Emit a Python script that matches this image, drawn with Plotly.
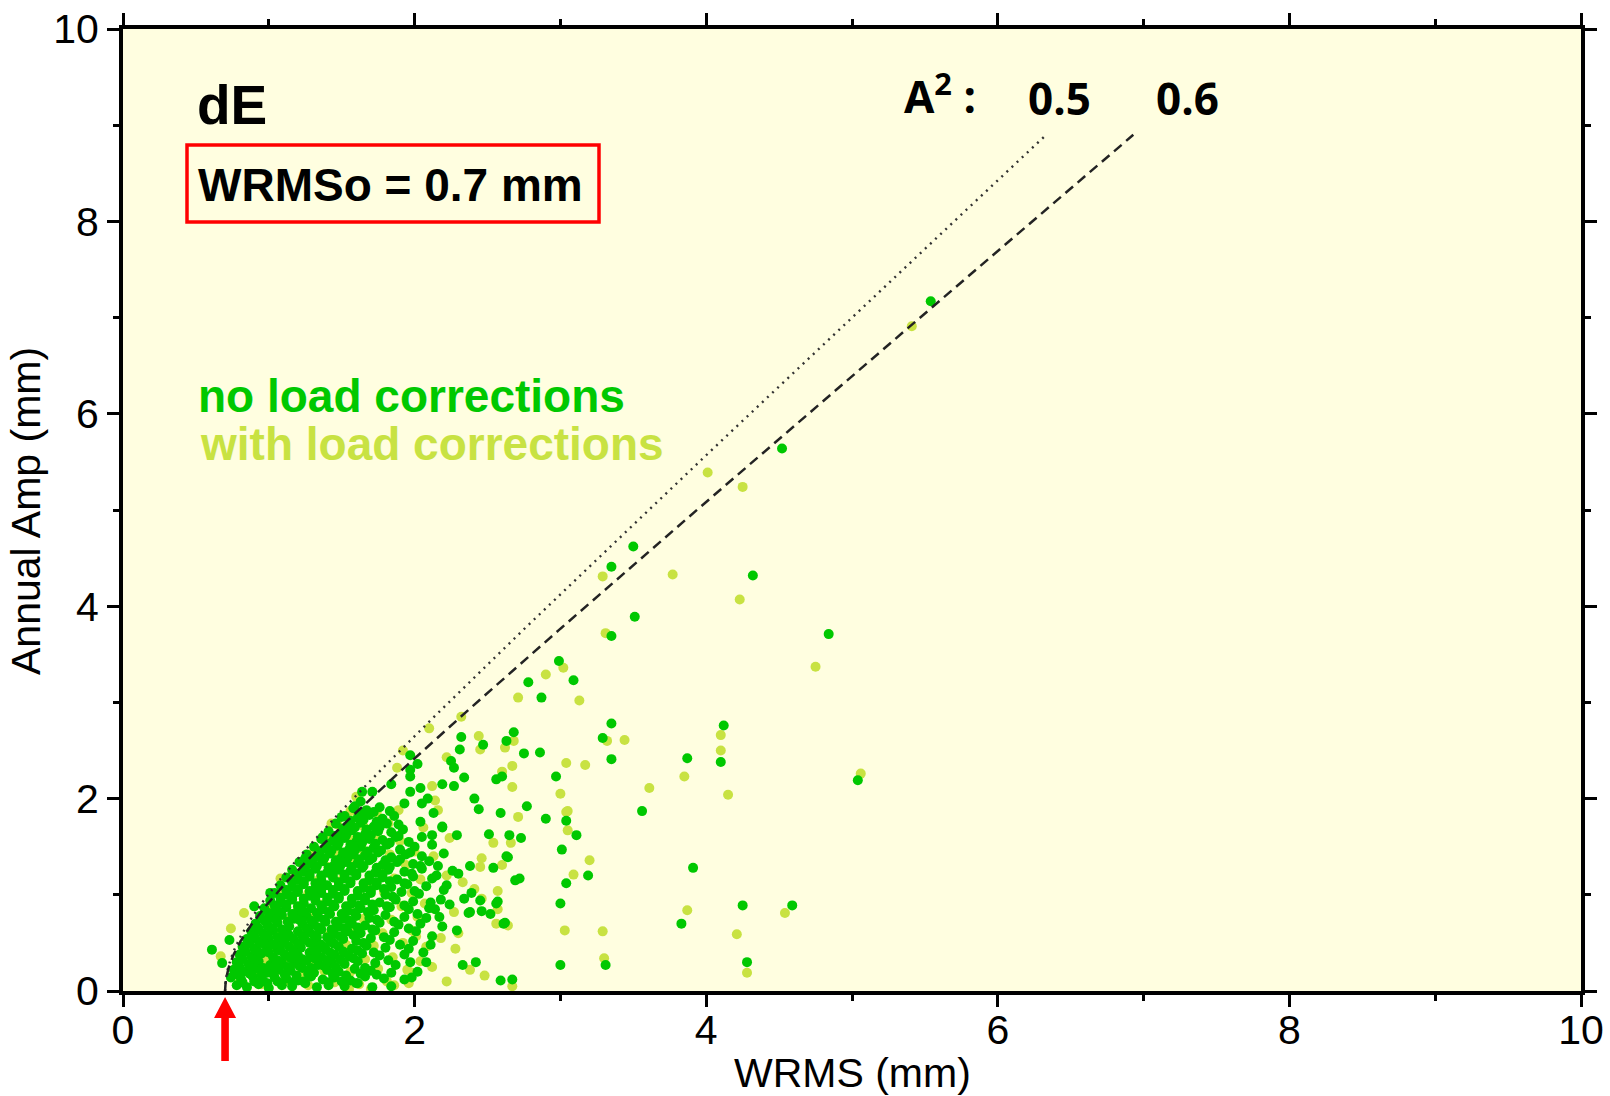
import numpy as np
import plotly.graph_objects as go

# ---------------- parameters of the model curves ----------------
WRMS0 = 0.7                # mm
A2_values = [0.5, 0.6]     # dotted, dashed
AMP_MAX = 8.9

# ---------------- tick labels ----------------
x_major = [0, 2, 4, 6, 8, 10]
x_minor = [1, 3, 5, 7, 9]
y_major = [0, 2, 4, 6, 8, 10]
y_minor = [1, 3, 5, 7, 9]

# ---------------- data (WRMS mm, annual amplitude mm) ----------------
green_outliers = [
    (5.54, 7.17), (4.52, 5.64), (3.50, 4.62), (3.35, 4.41), (4.32, 4.32), (3.51, 3.89),
    (4.84, 3.71), (3.35, 3.69), (2.99, 3.43), (3.09, 3.23), (2.78, 3.21), (2.87, 3.05),
    (4.12, 2.76), (4.10, 2.38), (3.87, 2.42), (3.56, 1.87), (5.04, 2.19), (3.91, 1.28),
    (3.83, 0.70), (4.25, 0.89), (4.28, 0.30), (4.59, 0.89),
    (3.35, 2.78), (3.29, 2.63), (3.35, 2.41), (2.97, 2.23), (3.01, 1.47), (3.19, 1.20),
    (3.04, 1.12), (3.00, 0.91), (3.00, 0.27), (3.31, 0.27), (3.11, 1.62), (3.04, 1.77),
    (2.68, 2.69), (2.63, 2.60), (2.47, 2.56), (2.32, 2.64), (2.31, 2.51), (2.75, 2.47),
    (2.86, 2.48), (2.25, 2.39), (2.27, 2.32), (2.34, 2.22), (2.27, 2.13), (2.60, 2.23),
    (2.56, 2.20), (2.41, 2.00), (2.44, 1.89), (2.19, 2.15), (2.77, 1.92), (2.59, 1.85),
    (2.90, 1.79), (2.13, 1.85), (2.04, 1.76), (2.19, 1.70), (2.29, 1.62), (2.02, 2.36),
    (1.97, 2.45), (1.97, 2.30), (1.97, 2.23), (2.04, 2.11), (1.97, 2.07), (1.84, 2.15),
    (2.51, 1.63), (2.65, 1.62), (2.73, 1.59), (2.64, 1.39), (2.38, 1.30), (2.54, 1.28),
    (2.30, 1.22), (2.69, 1.15), (2.72, 1.17), (2.22, 1.10), (2.34, 0.96), (2.39, 1.02),
    (2.37, 0.81), (2.46, 0.83), (2.52, 0.80), (2.57, 0.93), (2.61, 0.70), (2.45, 0.94),
    (2.56, 0.91), (2.62, 0.71), (2.19, 0.67), (2.29, 0.63), (2.11, 0.48), (1.97, 0.30),
    (1.98, 0.14), (2.33, 0.27), (2.42, 0.30), (2.59, 0.11), (2.67, 0.12), (2.63, 1.40),
    (2.38, 0.82), (2.20, 1.43), (2.19, 1.71), (2.20, 1.05), (2.12, 0.57), (1.84, 0.05),
    (0.61, 0.43), (0.68, 0.29), (0.73, 0.53), (0.90, 0.88), (1.01, 1.02), (1.25, 1.38),
    (1.37, 1.60), (1.50, 1.81), (1.59, 1.92), (1.63, 1.97), (1.71, 2.07), (1.64, 2.07),
    (2.05, 1.60), (2.12, 1.52), (2.16, 1.30), (2.15, 1.20), (2.18, 0.95), (2.14, 0.85),
    (2.17, 0.77), (2.08, 0.30), (2.02, 0.20), (1.93, 0.12), (2.06, 0.40), (2.24, 0.90),
    (2.26, 1.25), (2.12, 1.62), (2.05, 1.95), (1.93, 1.95), (2.09, 2.00),
]

green_cluster = [
    (0.78, 0.06), (0.85, 0.04), (0.93, 0.07), (1.00, 0.03), (1.09, 0.06), (1.16, 0.05),
    (1.25, 0.08), (1.33, 0.04), (1.41, 0.06), (1.52, 0.05), (1.60, 0.08), (1.71, 0.04),
    (0.74, 0.14), (0.81, 0.12), (0.89, 0.15), (0.96, 0.11), (1.04, 0.14), (1.12, 0.13),
    (1.20, 0.11), (1.29, 0.15), (1.37, 0.12), (1.45, 0.14), (1.56, 0.11), (1.66, 0.15), (1.79, 0.13),
    (0.76, 0.22), (0.83, 0.20), (0.92, 0.23), (0.99, 0.19), (1.07, 0.22), (1.15, 0.21),
    (1.23, 0.24), (1.31, 0.19), (1.40, 0.22), (1.48, 0.20), (1.59, 0.23), (1.70, 0.21), (1.84, 0.19),
    (0.78, 0.30), (0.86, 0.28), (0.93, 0.31), (1.01, 0.27), (1.09, 0.30), (1.18, 0.29),
    (1.26, 0.32), (1.34, 0.27), (1.43, 0.30), (1.52, 0.28), (1.61, 0.31), (1.73, 0.29), (1.87, 0.27),
    (0.80, 0.38), (0.88, 0.36), (0.95, 0.39), (1.03, 0.35), (1.11, 0.38), (1.20, 0.37),
    (1.28, 0.40), (1.36, 0.35), (1.45, 0.38), (1.55, 0.36), (1.64, 0.39), (1.76, 0.37), (1.93, 0.38),
    (0.82, 0.46), (0.90, 0.44), (0.98, 0.47), (1.06, 0.43), (1.14, 0.46), (1.22, 0.45),
    (1.31, 0.48), (1.39, 0.43), (1.48, 0.46), (1.57, 0.44), (1.67, 0.47), (1.80, 0.45), (1.96, 0.44),
    (0.85, 0.54), (0.93, 0.52), (1.00, 0.55), (1.08, 0.51), (1.17, 0.54), (1.25, 0.53),
    (1.33, 0.56), (1.42, 0.51), (1.51, 0.54), (1.60, 0.52), (1.70, 0.55), (1.83, 0.53), (1.99, 0.52),
    (0.88, 0.62), (0.96, 0.60), (1.03, 0.63), (1.11, 0.59), (1.20, 0.62), (1.28, 0.61),
    (1.36, 0.64), (1.45, 0.59), (1.54, 0.62), (1.63, 0.60), (1.73, 0.63), (1.86, 0.61), (2.01, 0.62),
    (0.91, 0.70), (0.99, 0.68), (1.06, 0.71), (1.14, 0.67), (1.23, 0.70), (1.31, 0.69),
    (1.39, 0.72), (1.48, 0.67), (1.57, 0.70), (1.66, 0.68), (1.76, 0.71), (1.89, 0.69), (2.04, 0.70),
    (0.94, 0.78), (1.02, 0.76), (1.09, 0.79), (1.17, 0.75), (1.26, 0.78), (1.34, 0.77),
    (1.42, 0.80), (1.51, 0.75), (1.60, 0.78), (1.69, 0.76), (1.80, 0.79), (1.93, 0.77), (2.08, 0.76),
    (0.97, 0.86), (1.05, 0.84), (1.12, 0.87), (1.20, 0.83), (1.29, 0.86), (1.37, 0.85),
    (1.45, 0.88), (1.54, 0.83), (1.63, 0.86), (1.72, 0.84), (1.83, 0.87), (1.96, 0.85), (2.10, 0.86),
    (1.01, 0.94), (1.08, 0.92), (1.16, 0.95), (1.24, 0.91), (1.32, 0.94), (1.40, 0.93),
    (1.48, 0.96), (1.57, 0.91), (1.66, 0.94), (1.76, 0.92), (1.87, 0.95), (1.99, 0.93), (2.11, 0.92),
    (1.04, 1.02), (1.12, 1.00), (1.20, 1.03), (1.28, 0.99), (1.36, 1.02), (1.44, 1.01),
    (1.52, 1.04), (1.61, 0.99), (1.70, 1.02), (1.80, 1.00), (1.91, 1.03), (2.03, 1.01),
    (1.08, 1.10), (1.16, 1.08), (1.24, 1.11), (1.32, 1.07), (1.40, 1.10), (1.48, 1.09),
    (1.56, 1.12), (1.65, 1.07), (1.74, 1.10), (1.84, 1.08), (1.95, 1.11), (2.08, 1.09),
    (1.12, 1.18), (1.20, 1.16), (1.28, 1.19), (1.36, 1.15), (1.44, 1.18), (1.52, 1.17),
    (1.60, 1.20), (1.69, 1.15), (1.78, 1.18), (1.88, 1.16), (1.99, 1.19), (2.12, 1.17),
    (1.16, 1.26), (1.24, 1.24), (1.32, 1.27), (1.40, 1.23), (1.48, 1.26), (1.56, 1.25),
    (1.64, 1.28), (1.73, 1.23), (1.82, 1.26), (1.93, 1.24), (2.05, 1.27),
    (1.21, 1.34), (1.29, 1.32), (1.37, 1.35), (1.45, 1.31), (1.53, 1.34), (1.61, 1.33),
    (1.69, 1.36), (1.78, 1.31), (1.88, 1.34), (1.99, 1.32), (2.10, 1.35),
    (1.26, 1.42), (1.34, 1.40), (1.42, 1.43), (1.50, 1.39), (1.58, 1.42), (1.66, 1.41),
    (1.75, 1.44), (1.84, 1.39), (1.94, 1.42), (2.05, 1.40),
    (1.31, 1.50), (1.39, 1.48), (1.47, 1.51), (1.55, 1.47), (1.63, 1.50), (1.72, 1.49),
    (1.81, 1.52), (1.90, 1.47), (2.00, 1.50),
    (1.36, 1.58), (1.44, 1.56), (1.52, 1.59), (1.60, 1.55), (1.69, 1.58), (1.78, 1.57),
    (1.87, 1.60), (1.96, 1.55),
    (1.41, 1.66), (1.49, 1.64), (1.57, 1.67), (1.66, 1.63), (1.75, 1.66), (1.84, 1.65), (1.92, 1.68),
    (1.46, 1.74), (1.54, 1.72), (1.63, 1.75), (1.72, 1.71), (1.81, 1.74), (1.89, 1.73),
    (1.52, 1.82), (1.61, 1.80), (1.69, 1.83), (1.78, 1.79), (1.86, 1.82),
    (1.58, 1.90), (1.67, 1.88), (1.76, 1.91), (1.83, 1.87),
]

green_fill = [
    (0.82, 0.09), (0.90, 0.10), (0.99, 0.08), (1.06, 0.10), (1.16, 0.09), (1.24, 0.10),
    (1.41, 0.09), (1.50, 0.10), (1.61, 0.08),
    (0.79, 0.17), (0.87, 0.18), (0.95, 0.16), (1.03, 0.18), (1.11, 0.17), (1.19, 0.16),
    (1.27, 0.18), (1.44, 0.17), (1.53, 0.16), (1.63, 0.18), (1.74, 0.17),
    (0.80, 0.25), (0.88, 0.26), (0.96, 0.24), (1.04, 0.26), (1.13, 0.25), (1.21, 0.26),
    (1.29, 0.24), (1.38, 0.26), (1.46, 0.25), (1.66, 0.24),
    (0.82, 0.33), (0.90, 0.34), (1.06, 0.32), (1.15, 0.34), (1.23, 0.33), (1.31, 0.34),
    (1.40, 0.32), (1.49, 0.33), (1.58, 0.34), (1.82, 0.32),
    (0.84, 0.41), (0.92, 0.42), (1.00, 0.40), (1.08, 0.42), (1.17, 0.41), (1.33, 0.42),
    (1.42, 0.40), (1.51, 0.41), (1.61, 0.42), (1.72, 0.40),
    (0.87, 0.49), (0.95, 0.50), (1.03, 0.48), (1.11, 0.50), (1.20, 0.49), (1.28, 0.50),
    (1.36, 0.48), (1.45, 0.49), (1.65, 0.50), (1.90, 0.48),
    (0.90, 0.57), (0.98, 0.58), (1.06, 0.56), (1.14, 0.58), (1.23, 0.57), (1.31, 0.58),
    (1.40, 0.56), (1.49, 0.57), (1.58, 0.58), (1.79, 0.56),
    (0.93, 0.65), (1.01, 0.66), (1.09, 0.64), (1.26, 0.65), (1.34, 0.66), (1.43, 0.64),
    (1.52, 0.65), (1.61, 0.66), (1.71, 0.64), (1.96, 0.65),
    (0.97, 0.73), (1.05, 0.74), (1.13, 0.72), (1.21, 0.74), (1.29, 0.73), (1.38, 0.74),
    (1.46, 0.72), (1.55, 0.73), (1.74, 0.74), (1.86, 0.72),
    (1.00, 0.81), (1.08, 0.82), (1.16, 0.80), (1.24, 0.82), (1.33, 0.81), (1.41, 0.82),
    (1.50, 0.80), (1.59, 0.81), (1.68, 0.82), (2.02, 0.80),
    (1.04, 0.89), (1.12, 0.90), (1.20, 0.88), (1.36, 0.89), (1.44, 0.90), (1.53, 0.88),
    (1.62, 0.89), (1.71, 0.90), (1.81, 0.88), (1.93, 0.89),
    (1.08, 0.97), (1.16, 0.98), (1.24, 0.96), (1.32, 0.98), (1.40, 0.97), (1.48, 0.98),
    (1.57, 0.96), (1.66, 0.97), (1.85, 0.98),
    (1.12, 1.05), (1.20, 1.06), (1.28, 1.04), (1.36, 1.06), (1.44, 1.05), (1.52, 1.06),
    (1.61, 1.04), (1.70, 1.05), (1.79, 1.06), (2.00, 1.04),
    (1.16, 1.13), (1.24, 1.14), (1.32, 1.12), (1.48, 1.13), (1.56, 1.14), (1.65, 1.12),
    (1.74, 1.13), (1.83, 1.14), (1.93, 1.12),
    (1.20, 1.21), (1.28, 1.22), (1.36, 1.20), (1.44, 1.22), (1.52, 1.21), (1.60, 1.22),
    (1.69, 1.20), (1.78, 1.21), (1.98, 1.22),
    (1.25, 1.29), (1.33, 1.30), (1.41, 1.28), (1.49, 1.30), (1.57, 1.29), (1.65, 1.30),
    (1.74, 1.28), (1.83, 1.29), (2.04, 1.30),
    (1.30, 1.37), (1.38, 1.38), (1.46, 1.36), (1.54, 1.38), (1.62, 1.37), (1.71, 1.38),
    (1.80, 1.36), (1.90, 1.37),
    (1.35, 1.45), (1.43, 1.46), (1.51, 1.44), (1.59, 1.46), (1.68, 1.45), (1.77, 1.46), (1.97, 1.44),
    (1.40, 1.53), (1.48, 1.54), (1.56, 1.52), (1.64, 1.54), (1.73, 1.53), (1.83, 1.54),
    (1.45, 1.61), (1.53, 1.62), (1.61, 1.60), (1.70, 1.62), (1.89, 1.61),
    (1.51, 1.69), (1.59, 1.70), (1.67, 1.68), (1.76, 1.70),
    (1.56, 1.77), (1.65, 1.78), (1.74, 1.76),
    (1.63, 1.85), (1.72, 1.86),
]

light_outliers = [
    (5.41, 6.91), (4.01, 5.39), (4.25, 5.24), (3.29, 4.31), (3.77, 4.33), (4.23, 4.07),
    (3.31, 3.72), (4.75, 3.37), (3.02, 3.36), (2.90, 3.29), (3.13, 3.02), (2.71, 3.05),
    (4.10, 2.66), (4.10, 2.50), (3.85, 2.23), (3.61, 2.11), (4.15, 2.04), (5.06, 2.26),
    (3.87, 0.84), (4.21, 0.59), (4.28, 0.19), (4.54, 0.81),
    (3.44, 2.61), (3.32, 2.60), (3.04, 2.37), (3.17, 2.35), (3.00, 2.05), (3.05, 1.87),
    (3.05, 1.67), (3.20, 1.36), (3.09, 1.21), (3.03, 0.63), (3.29, 0.62), (3.30, 0.34),
    (2.32, 2.85), (2.10, 2.73), (2.44, 2.65), (2.62, 2.53), (2.45, 2.51), (2.67, 2.34),
    (2.67, 2.12), (1.92, 2.50), (2.22, 2.43), (2.14, 1.98), (2.12, 2.13), (2.71, 1.81),
    (3.04, 1.86), (1.88, 2.32), (1.60, 2.02), (2.68, 2.60), (2.60, 2.28),
    (2.24, 1.59), (2.54, 1.54), (2.66, 1.54), (2.46, 1.38), (2.60, 1.31), (2.45, 1.29),
    (2.33, 1.13), (2.57, 1.04), (2.41, 1.06), (2.46, 0.96), (2.57, 0.85), (2.64, 0.68),
    (2.28, 0.44), (2.27, 0.82), (2.56, 0.70), (2.48, 0.16), (2.67, 0.05), (2.38, 0.22),
    (1.86, 0.06), (2.08, 0.46), (2.01, 0.57),
    (0.74, 0.65), (0.83, 0.81), (1.08, 1.17), (1.43, 1.74), (0.67, 0.36),
    (2.13, 1.40), (2.22, 1.20), (2.18, 0.55), (2.12, 0.25), (2.22, 0.10), (2.30, 0.60),
    (2.06, 1.70), (2.16, 1.88), (1.70, 0.02), (1.55, 0.02), (1.95, 0.22),
]

light_cluster = [
    (0.80, 0.09), (0.95, 0.07), (1.11, 0.10), (1.27, 0.06), (1.45, 0.09), (1.62, 0.07), (1.81, 0.10), (1.96, 0.08),
    (0.77, 0.21), (0.91, 0.19), (1.06, 0.22), (1.22, 0.18), (1.38, 0.21), (1.56, 0.20), (1.75, 0.23), (1.98, 0.19),
    (0.81, 0.34), (0.97, 0.32), (1.13, 0.35), (1.30, 0.31), (1.47, 0.34), (1.66, 0.33), (1.85, 0.35), (2.04, 0.31),
    (0.85, 0.48), (1.01, 0.46), (1.18, 0.49), (1.35, 0.45), (1.53, 0.48), (1.72, 0.47), (1.92, 0.50),
    (0.91, 0.61), (1.07, 0.59), (1.24, 0.62), (1.41, 0.58), (1.59, 0.61), (1.78, 0.60), (1.98, 0.63),
    (0.97, 0.75), (1.13, 0.73), (1.30, 0.76), (1.47, 0.72), (1.65, 0.75), (1.84, 0.74), (2.02, 0.77),
    (1.03, 0.89), (1.20, 0.87), (1.37, 0.90), (1.54, 0.86), (1.72, 0.89), (1.91, 0.88), (2.07, 0.91),
    (1.10, 1.03), (1.27, 1.01), (1.44, 1.04), (1.61, 1.00), (1.79, 1.03), (1.98, 1.02),
    (1.17, 1.17), (1.34, 1.15), (1.51, 1.18), (1.68, 1.14), (1.86, 1.17), (2.04, 1.16),
    (1.24, 1.31), (1.41, 1.29), (1.58, 1.32), (1.76, 1.28), (1.94, 1.31),
    (1.31, 1.45), (1.48, 1.43), (1.65, 1.46), (1.83, 1.42), (2.00, 1.45),
    (1.39, 1.59), (1.56, 1.57), (1.73, 1.60), (1.90, 1.56),
    (1.47, 1.73), (1.65, 1.71), (1.82, 1.74),
    (1.56, 1.87), (1.74, 1.85), (1.89, 1.88),
]

# ---------------- styles ----------------
GREEN = "rgb(0,200,0)"
LIGHT = "rgb(200,226,66)"
BG = "rgb(255,254,224)"
FONT = "Liberation Sans, Arial, sans-serif"
FONT2 = "Open Sans, Lato, sans-serif"
MSIZE = 10

# plot box in pixels (for placing decorations in paper coordinates)
W, H = 1610, 1096
L, R, T, B = 123, 29, 29, 105
PW, PH = W - L - R, H - T - B


def px(xpix):
    return (xpix - L) / PW


def py(ypix):
    return (H - B - ypix) / PH


fig = go.Figure()

light = light_cluster + light_outliers
green = green_cluster + green_fill + green_outliers
fig.add_trace(go.Scatter(x=[p[0] for p in light], y=[p[1] for p in light], mode="markers",
                         marker=dict(size=MSIZE, color=LIGHT, line=dict(width=0)), hoverinfo="skip"))
fig.add_trace(go.Scatter(x=[p[0] for p in green], y=[p[1] for p in green], mode="markers",
                         marker=dict(size=MSIZE, color=GREEN, line=dict(width=0)), hoverinfo="skip"))

amp = np.linspace(0, AMP_MAX, 600)
styles = [dict(color="rgb(50,50,50)", width=2.4, dash="2px,5px"),
          dict(color="rgb(35,35,35)", width=2.5, dash="10px,6px")]
for A2, st in zip(A2_values, styles):
    w = np.sqrt(WRMS0 ** 2 + A2 * amp ** 2)
    fig.add_trace(go.Scatter(x=w, y=amp, mode="lines", line=st, hoverinfo="skip"))

axis_common = dict(
    range=[0, 10], ticks="outside", ticklen=12, tickwidth=2.5, tickcolor="black",
    showline=True, linewidth=4, linecolor="black", mirror="ticks", automargin=False,
    showgrid=False, zeroline=False, tickfont=dict(size=41, family=FONT, color="black"),
)
fig.update_xaxes(**axis_common, tickvals=x_major, ticklabelstandoff=-12,
                 minor=dict(tickvals=x_minor, ticks="outside", ticklen=6, tickwidth=2.5,
                            tickcolor="black", showgrid=False))
fig.update_yaxes(**axis_common, tickvals=y_major, ticklabelstandoff=0,
                 minor=dict(tickvals=y_minor, ticks="outside", ticklen=6, tickwidth=2.5,
                            tickcolor="black", showgrid=False))

annotations = [
    dict(text="WRMS (mm)", x=0.5, y=py(1073), xanchor="center", yanchor="middle",
         font=dict(size=41, family=FONT, color="black")),
    dict(text="Annual Amp (mm)", x=px(26), y=py(511), xanchor="center", yanchor="middle",
         textangle=-90, font=dict(size=41, family=FONT, color="black")),
    dict(text="<b>dE</b>", x=px(195), y=py(105), xanchor="left", yanchor="middle",
         font=dict(size=55, family=FONT, color="black")),
    dict(text="<b>WRMSo = 0.7 mm</b>", x=px(196), y=py(185), xanchor="left", yanchor="middle",
         font=dict(size=46, family=FONT, color="black")),
    dict(text="<b>no load corrections</b>", x=px(196), y=py(396), xanchor="left", yanchor="middle",
         font=dict(size=46, family=FONT, color=GREEN)),
    dict(text="<b>with load corrections</b>", x=px(198), y=py(444), xanchor="left", yanchor="middle",
         font=dict(size=46, family=FONT, color=LIGHT)),
    dict(text="<b>A<sup>2</sup> :</b>", x=px(902), y=py(94), xanchor="left", yanchor="middle",
         font=dict(size=44, family=FONT2, color="black")),
    dict(text="<b>%.1f</b>" % A2_values[0], x=px(1026), y=py(98), xanchor="left", yanchor="middle",
         font=dict(size=44, family=FONT2, color="black")),
    dict(text="<b>%.1f</b>" % A2_values[1], x=px(1154), y=py(98), xanchor="left", yanchor="middle",
         font=dict(size=44, family=FONT2, color="black")),
]
for a in annotations:
    a.update(xref="paper", yref="paper", showarrow=False)

shapes = [
    dict(type="rect", xref="paper", yref="paper", x0=px(187), x1=px(599), y0=py(222), y1=py(145),
         line=dict(color="red", width=3.5), fillcolor="rgba(0,0,0,0)"),
    # red arrow pointing at WRMSo on the x axis (pixel-sized path anchored at x = WRMSo)
    dict(type="path", xref="paper", yref="paper", xsizemode="pixel", ysizemode="pixel",
         xanchor=WRMS0 / 10.0, yanchor=0,
         path="M -11,-27 L 0,-6 L 11,-27 L 3.8,-27 L 3.8,-70 L -3.8,-70 L -3.8,-27 Z",
         fillcolor="red", line=dict(width=0)),
]

fig.update_layout(
    width=W, height=H, margin=dict(l=L, r=R, t=T, b=B),
    paper_bgcolor="white", plot_bgcolor=BG, showlegend=False,
    font=dict(family=FONT, color="black"),
    annotations=annotations, shapes=shapes,
)

fig.write_html("out.html")
